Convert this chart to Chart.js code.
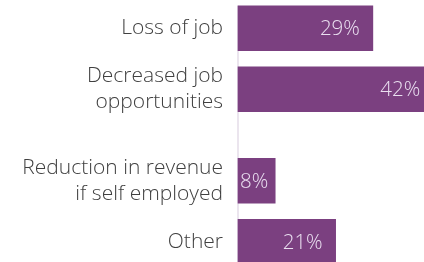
<!DOCTYPE html>
<html>
<head>
<meta charset="utf-8">
<script src="https://cdn.jsdelivr.net/npm/chart.js@4"></script>
<style>
  html, body { margin: 0; padding: 0; background: #fff; }
  #wrap { width: 424px; height: 262px; }
</style>
</head>
<body>
<div id="wrap"><canvas id="myChart"></canvas></div>
<script>
// blank categories leave the gaps between the bars
const categories = ['Loss of job', '', ['Decreased job', 'opportunities'], '', '', ['Reduction in revenue', 'if self employed'], '', 'Other'];
const values = [29, null, 42, null, null, 8, null, 21];
const xTicks = [0, 10, 20, 30, 40];

const barColor = '#7b4080';
const fontFamily = "'Open Sans', 'Segoe UI', sans-serif";

// value labels inside the end of each bar
const valueLabels = {
    id: 'valueLabels',
    afterDatasetsDraw(chart) {
        const ctx = chart.ctx;
        const meta = chart.getDatasetMeta(0);
        ctx.save();
        ctx.font = '300 20.5px ' + fontFamily;
        ctx.fillStyle = '#eadff0';
        ctx.textAlign = 'right';
        ctx.textBaseline = 'middle';
        meta.data.forEach((bar, i) => {
            if (values[i] == null) return;
            const text = values[i] + '%';
            const w = ctx.measureText(text).width;
            let right = bar.x - 13;
            if (right - w < bar.base + 2) right = bar.base + 2 + w;
            ctx.fillText(text, right, bar.y + 1);
        });
        ctx.restore();
    }
};

// axis line starting at the top of the first bar
const axisLine = {
    id: 'axisLine',
    beforeDatasetsDraw(chart) {
        const ctx = chart.ctx;
        const first = chart.getDatasetMeta(0).data[0];
        const x = chart.scales.x.getPixelForValue(0);
        ctx.save();
        ctx.strokeStyle = '#e4dde8';
        ctx.lineWidth = 1.5;
        ctx.beginPath();
        ctx.moveTo(x, first.y - first.height / 2);
        ctx.lineTo(x, chart.height);
        ctx.stroke();
        ctx.restore();
    }
};

new Chart(document.getElementById('myChart').getContext('2d'), {
    type: 'bar',
    data: {
        labels: categories,
        datasets: [{
            data: values,
            backgroundColor: barColor,
            barThickness: 45,
            clip: false
        }]
    },
    options: {
        indexAxis: 'y',
        responsive: true,
        maintainAspectRatio: false,
        animation: false,
        layout: { padding: { top: 13, bottom: 5, left: 0, right: 0 } },
        plugins: {
            legend: { display: false },
            tooltip: { enabled: false }
        },
        scales: {
            x: {
                display: false,
                min: xTicks[0],
                max: xTicks[xTicks.length - 1]
            },
            y: {
                grid: { display: false, drawTicks: false },
                border: { display: false },
                ticks: {
                    autoSkip: false,
                    padding: 15,
                    color: '#404040',
                    font: { family: fontFamily, size: 21, weight: 300, lineHeight: 1.25 }
                },
                afterFit(scale) {
                    scale.width = 238;
                    scale.paddingTop = 0;
                    scale.paddingBottom = 0;
                }
            }
        }
    },
    plugins: [axisLine, valueLabels]
});
</script>
</body>
</html>
